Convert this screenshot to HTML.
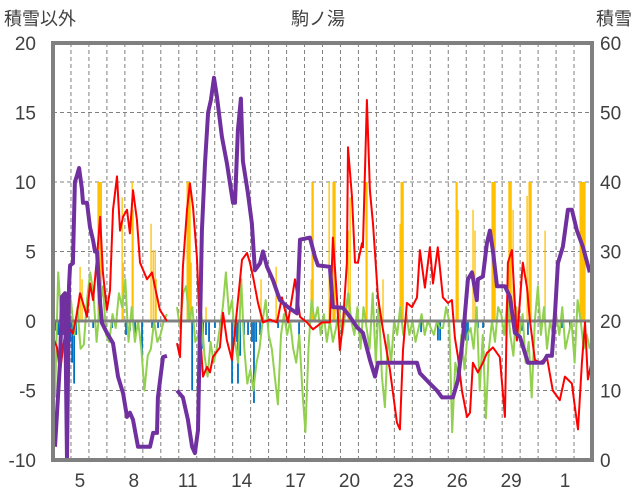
<!DOCTYPE html>
<html><head><meta charset="utf-8"><style>
body{margin:0;background:#fff;width:636px;height:501px;overflow:hidden}
svg{display:block;font-family:"Liberation Sans","Noto Sans CJK JP",sans-serif}
</style></head><body>
<svg id="chart" width="636" height="501" viewBox="0 0 636 501" xmlns="http://www.w3.org/2000/svg">
<text x="4" y="25" font-size="18" fill="#404040">積雪以外</text>
<text x="318" y="25" font-size="18" fill="#404040" text-anchor="middle">駒ノ湯</text>
<text x="632" y="25" font-size="18" fill="#404040" text-anchor="end">積雪</text>
<g id="grid"></g>
<g id="marks"></g>
<g id="axes"></g>
</svg>
<script>
const leftTicks=[-10,-5,0,5,10,15,20];
const rightTicks=[0,10,20,30,40,50,60];
const xTickLabels=["5","8","11","14","17","20","23","26","29","1"];
const xTickDays=[1.5,4.5,7.5,10.5,13.5,16.5,19.5,22.5,25.5,28.5];
const snowT=[0.11,0.39,0.50,0.67,0.78,0.89,0.95,1.11,1.22,1.34,1.45,1.61,1.67,1.89,2.06,2.23,2.34,2.45,2.62,2.73,3.00,3.34,3.62,3.90,4.12,4.28,4.45,4.73,5.40,5.57,5.79,5.84,6.12,6.34,null,6.90,7.23,7.51,7.74,7.90,8.07,8.29,8.46,8.63,8.79,8.96,9.13,9.40,9.68,10.02,10.13,10.29,10.46,10.57,10.85,11.07,11.24,11.52,11.69,11.91,12.24,12.63,13.08,13.58,13.75,14.30,14.58,14.75,15.41,15.58,16.14,16.53,16.92,17.25,17.64,17.92,18.09,20.26,20.42,20.98,21.37,21.65,22.26,22.54,22.82,23.09,23.32,23.59,23.65,23.93,24.15,24.32,24.49,24.71,25.15,25.43,25.71,25.99,26.43,27.27,27.49,27.77,27.94,28.10,28.38,28.66,28.88,29.16,29.49,29.88];
const snowV=[1.9,14,23.5,24,0,25,28,28.3,40,41,42,39,37,37,33.5,31.6,30,30,22.6,19.7,18.3,16.8,12,9.6,6.2,6.8,5.8,1.9,1.9,3.9,3.9,9,14.8,15,null,10,9,5.8,1.9,1,4.3,33,42.7,50,51.8,55,52.2,46.5,42.7,37,37,47.5,52,43,38.4,34,27.3,28.3,30,27.8,25.9,23,22,21.1,31.7,32,29.2,28,27.8,22,21.9,20.6,19.1,18.3,14.4,12,14,14,12.5,11,10,9,9,11.5,17.7,26,27,23,26,26.4,31.2,33,30,25,25,23.5,18.3,17.7,14,14,15,15,21.1,28.3,30.7,36,36,33,30.7,27];
const tempT=[0,0.22,0.39,0.56,0.78,0.95,1.11,1.34,1.50,1.67,1.89,2.06,2.23,2.45,2.62,2.78,3.00,3.17,3.34,3.56,3.73,3.90,4.12,4.28,4.45,4.67,4.84,5.23,5.51,5.68,5.95,6.34,null,6.90,7.07,7.23,7.46,7.62,7.79,8.01,8.18,8.35,8.57,8.74,8.90,9.29,9.46,9.68,9.96,10.24,10.52,10.80,10.96,11.13,11.41,11.69,12.08,12.47,12.74,13.08,13.47,13.75,14.13,14.47,14.97,15.41,15.58,15.80,15.97,16.14,16.36,16.42,16.64,16.81,16.97,17.20,17.25,17.47,17.64,17.81,18.09,18.36,18.75,19.14,19.31,19.48,19.70,19.98,20.26,20.42,20.70,20.98,21.15,21.42,21.70,21.98,22.20,22.37,22.54,22.76,23.04,23.21,23.37,23.65,23.93,24.15,24.49,24.87,25.15,25.32,25.54,25.82,26.15,26.38,26.54,26.82,27.10,27.49,27.82,28.21,28.49,28.88,29.05,29.22,29.44,29.61,29.77,30.0];
const tempV=[-1.2,-1.9,-3.7,-1.9,0,-0.6,-0.9,0.6,2,1.3,0.3,2.7,1.5,4.6,7.5,3.5,0.8,2.2,8,10.4,6.5,7.5,8,6.3,9.4,7.3,4.2,3,3.5,2.4,0.8,0,null,-1.6,-2.6,3.9,8,9.9,8.2,4.6,-0.9,-4,-3.3,-3.7,-2.6,-1.9,0.6,-1.4,-2.8,0.8,4.4,4.9,4.2,3.2,1.3,-0.1,0.1,-0.1,1.7,-0.1,3,0.3,-0.1,-0.6,-0.1,-0.1,6,1.7,-2.1,-0.1,4.2,12.5,8.9,4.2,4.2,5.6,5.3,15.9,9.4,7,1.7,-0.6,-3.5,-7.3,-7.8,-2.1,1.3,1,1.7,5.1,2.4,5.3,2.7,5.3,1.7,1.3,1.5,-1.2,-2.6,-5,-6.9,-6.6,-3,-3.7,-3,-2.3,-1.9,-2.6,-6.9,4.2,5.1,-1.4,4.2,2.4,0.1,-2.8,-3,-2.6,-5,-5.7,-4,-4.5,-6.2,-7.8,-3,-0.1,-4.2,-2.8];
const green1Range=[0.11,6.34];
const green1V=[-5.5,3.5,0,2,-1,1.5,-1,1,-2,-1.7,1.5,3.5,2,-1.5,1,2.5,-1,-1.5,0.5,-0.5,2,1,3,-1.5,1,-1.5,0,-2,-5,-2.5,-2,0,-1.5,-1,0,0.5];
const green2Range=[6.90,29.88];
const green2V=[1,-0.5,2,2.5,0,1,-1.5,-1,0.5,-2.5,-4,-1.5,-3,-2,-0.5,1,3.5,0.5,1.5,-1.5,-3,3,-2,-4.5,-3.5,-5,-3,-2,0,1.5,-1,-2,-4,-6,-1,0.5,-1,0,-2,-3,-1,-5,-8,-2,1.5,0,1,-1,0.5,-1.5,0,-1.5,-0.5,1,-1,0.5,2,0,-1,1,-2,1,-0.5,-2,2,-3,1.5,-4,-6.2,-1,-3,0,-1,1,-1,0.5,-1,0,-1.5,-0.5,0.5,-1,0,-0.5,-1,0,-0.5,-0.5,1,0,-8,-3,-4,-1,-3.5,-1,-0.5,-2,1,-5,-1,-7,-2,0,-1.5,1,0.5,-1,1.5,-1,-2.5,1,-1,0.5,-3,-1.5,-5.5,0,2.5,-1,1,-2,0,-1,0.5,-1,1,-2,-1,0,-3,1.5,0,-2,-1,-2];
const precipT=[1.50,1.61,2.50,2.56,2.62,2.68,3.84,3.90,4.40,4.45,5.45,5.57,5.68,5.73,7.46,7.51,7.57,7.62,7.68,8.51,11.57,12.41,14.36,14.41,14.47,15.36,15.58,15.64,15.69,16.42,16.53,17.42,17.47,18.36,19.31,19.37,19.42,19.48,22.43,22.48,22.54,23.37,23.48,24.43,24.49,24.54,24.60,25.37,25.43,25.49,25.60,26.38,26.49,26.54,26.60,27.38,29.33,29.38,29.44,29.49,29.55,29.60];
const precipV=[3.9,3,10,10,10,10,8.9,4.2,10,8,7,5.1,5.1,3,10,10,10,10,4.2,1,3,3.9,3,10,10,10,10,10,10,6.5,8.9,10,10,3,7,10,10,10,10,10,8,8,6.5,10,10,10,10,10,10,10,8,9,10,10,10,6.5,10,10,10,10,10,10];
const negT=[0.11,0.28,0.56,0.83,0.95,1.06,1.17,1.28,2.23,3.28,4.06,4.28,4.56,4.95,5.51,5.84,7.74,8.18,8.35,8.51,8.68,9.01,9.29,9.96,10.18,10.29,10.41,10.63,10.85,11.07,11.18,11.30,11.52,12.52,13.69,20.48,21.42,21.54,22.76,22.98,23.09,23.65,23.93,26.10,26.43,27.94,28.32,28.77];
const negV=[-0.7,-1,-1,-2,-1.5,-3,-4.5,-1,-0.5,-0.5,-1,-0.7,-1,-2.6,-0.5,-0.5,-5,-1.5,-2,-1,-1.5,-0.5,-0.5,-4.5,-1.5,-4.5,-2.5,-1,-1,-1.5,-5.9,-1.5,-1,-0.5,-1.5,-0.8,-1.4,-1.4,-0.5,-1.4,-1.4,-0.5,-0.5,-0.7,-1,-0.5,-0.5,-0.5];

const X0=53,X1=592,Y0=460,Y1=43,NDAYS=30;
const xs=t=>X0+(t/NDAYS)*(X1-X0);
const yl=v=>Y0-(v+10)/30*(Y0-Y1);
const yr=v=>Y0-v/60*(Y0-Y1);
const NS="http://www.w3.org/2000/svg";
function mk(tag,attrs,parent){const e=document.createElementNS(NS,tag);for(const k in attrs)e.setAttribute(k,attrs[k]);parent.appendChild(e);return e;}
const grid=document.getElementById('grid'),marks=document.getElementById('marks'),axes=document.getElementById('axes');

for(let d=1;d<NDAYS;d++){const x=xs(d);
 const l=mk('line',{x1:x,x2:x,y1:Y1,y2:Y0,stroke:'#808080','stroke-width':1,'stroke-dasharray':'4 3'},grid);
 
 }
leftTicks.forEach(v=>{if(v===-10||v===20||v===0)return;const y=yl(v);
 const l=mk('line',{x1:X0,x2:X1,y1:y,y2:y,stroke:'#808080','stroke-width':1,'stroke-dasharray':'4 3'},grid);
 
 });

precipT.forEach((t,i)=>{const x=xs(t),y=yl(precipV[i]);
 const r=mk('rect',{x:x-0.5,y:y,width:1.3,height:yl(0)-y,fill:'#ffc000'},marks);
 
 });
negT.forEach((t,i)=>{const x=xs(t),y=yl(negV[i]);
 const r=mk('rect',{x:x-0.8,y:yl(0),width:1.8,height:y-yl(0),fill:'#0070c0'},marks);
 
 });

function pathFrom(T,V,yf){let d='',pen=false;T.forEach((t,i)=>{if(t===null||V[i]===null){pen=false;return;}d+=(pen?'L':'M')+xs(t).toFixed(1)+' '+yf(V[i]).toFixed(1)+' ';pen=true;});return d;}
function evenT(range,n){const a=[];for(let i=0;i<n;i++)a.push(range[0]+(range[1]-range[0])*i/(n-1));return a;}
const gT=evenT(green1Range,green1V.length).concat([null],evenT(green2Range,green2V.length));
const gV=green1V.concat([null],green2V);
const gp=mk('path',{d:pathFrom(gT,gV,yl),fill:'none',stroke:'#92d050','stroke-width':2,'stroke-linejoin':'round'},marks);


const zl=mk('line',{x1:X0,x2:X1,y1:yl(0),y2:yl(0),stroke:'#808080','stroke-width':3},marks);


const rp=mk('path',{d:pathFrom(tempT,tempV,yl),fill:'none',stroke:'#ff0000','stroke-width':2,'stroke-linejoin':'round'},marks);


const pp=mk('path',{d:pathFrom(snowT,snowV,yr),fill:'none',stroke:'#7030a0','stroke-width':4,'stroke-linejoin':'round'},marks);



const fr=mk('rect',{x:X0,y:Y1,width:X1-X0,height:Y0-Y1,fill:'none',stroke:'#808080','stroke-width':4},axes);


leftTicks.forEach(v=>{const t=mk('text',{x:36,y:yl(v)+7,'font-size':19,fill:'#404040','text-anchor':'end'},axes);t.textContent=v;
 
 });
rightTicks.forEach(v=>{const t=mk('text',{x:600,y:yr(v)+7,'font-size':19,fill:'#404040'},axes);t.textContent=v;
 
 });
xTickLabels.forEach((s,i)=>{const t=mk('text',{x:xs(xTickDays[i]),y:487,'font-size':19,fill:'#404040','text-anchor':'middle'},axes);t.textContent=s;
 
 });
</script>
</body></html>
